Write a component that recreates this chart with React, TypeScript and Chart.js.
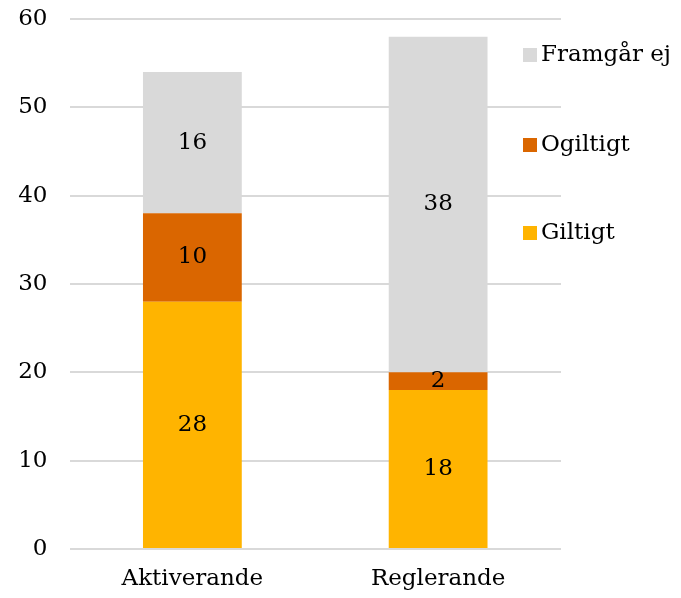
import React, { useEffect, useRef } from "react";
import { Chart, registerables } from "chart.js";

Chart.register(...registerables);

const categories = ["Aktiverande", "Reglerande"];
const giltigt = [28, 18];
const ogiltigt = [10, 2];
const framgarEj = [16, 38];
const yTicks = [0, 10, 20, 30, 40, 50, 60];

const FONT = "'DejaVu Serif', Georgia, serif";
const FS = 23;

export default function App() {
  const ref = useRef<HTMLCanvasElement | null>(null);
  useEffect(() => {
    if (!ref.current) return;
    const labelPlugin = {
      id: "segLabels",
      afterDatasetsDraw(chart: any) {
        const ctx = chart.ctx;
        ctx.save();
        ctx.font = `${FS}px ${FONT}`;
        ctx.fillStyle = "#000";
        ctx.textAlign = "center";
        ctx.textBaseline = "middle";
        chart.data.datasets.forEach((ds: any, i: number) => {
          const meta = chart.getDatasetMeta(i);
          meta.data.forEach((el: any, j: number) => {
            const v = ds.data[j];
            const y = (el.y + el.base) / 2;
            ctx.fillText(String(v), el.x, y);
          });
        });
        ctx.restore();
      },
    };
    const legendPlugin = {
      id: "customLegend",
      afterDraw(chart: any) {
        const ctx = chart.ctx;
        ctx.save();
        ctx.font = `${FS}px ${FONT}`;
        ctx.textAlign = "left";
        ctx.textBaseline = "middle";
        const ds = chart.data.datasets.slice().reverse();
        const ys = [55, 145, 233];
        ds.forEach((d: any, i: number) => {
          const y = ys[i];
          ctx.fillStyle = d.backgroundColor;
          ctx.fillRect(523, y - 7, 14, 14);
          ctx.fillStyle = "#000";
          ctx.fillText(d.label, 541, y);
        });
        ctx.restore();
      },
    };
    const chart = new Chart(ref.current, {
      type: "bar",
      data: {
        labels: categories,
        datasets: [
          { label: "Giltigt", data: giltigt, backgroundColor: "#FFB400" },
          { label: "Ogiltigt", data: ogiltigt, backgroundColor: "#DA6600" },
          { label: "Framgår ej", data: framgarEj, backgroundColor: "#D9D9D9" },
        ],
      },
      options: {
        animation: false,
        responsive: false,
        maintainAspectRatio: false,
        layout: { padding: { top: 19, right: 120, left: 0, bottom: 0 } },
        datasets: { bar: { barPercentage: 0.402, categoryPercentage: 1 } },
        plugins: { legend: { display: false }, tooltip: { enabled: false } },
        scales: {
          x: {
            stacked: true,
            grid: { display: false, drawTicks: false },
            border: { display: false },
            ticks: { color: "#000", font: { family: FONT, size: FS }, padding: 16 },
            afterFit: (s: any) => { s.height = 49; s.paddingLeft = 0; s.paddingRight = 0; },
          },
          y: {
            stacked: true,
            min: 0,
            max: 60,
            afterBuildTicks: (s: any) => { s.ticks = yTicks.map((v) => ({ value: v })); },
            grid: { color: "#D9D9D9", lineWidth: 2, drawTicks: false },
            border: { display: false },
            ticks: { color: "#000", font: { family: FONT, size: FS }, padding: 22 },
            afterFit: (s: any) => { s.width = 69.5; s.paddingTop = 0; s.paddingBottom = 0; },
          },
        },
      },
      plugins: [labelPlugin, legendPlugin],
    });
    return () => chart.destroy();
  }, []);
  return (
    <div style={{ position: "absolute", left: 0, top: 0, width: 681, height: 598 }}>
      <canvas ref={ref} width={681} height={598} style={{ display: "block" }} />
    </div>
  );
}
